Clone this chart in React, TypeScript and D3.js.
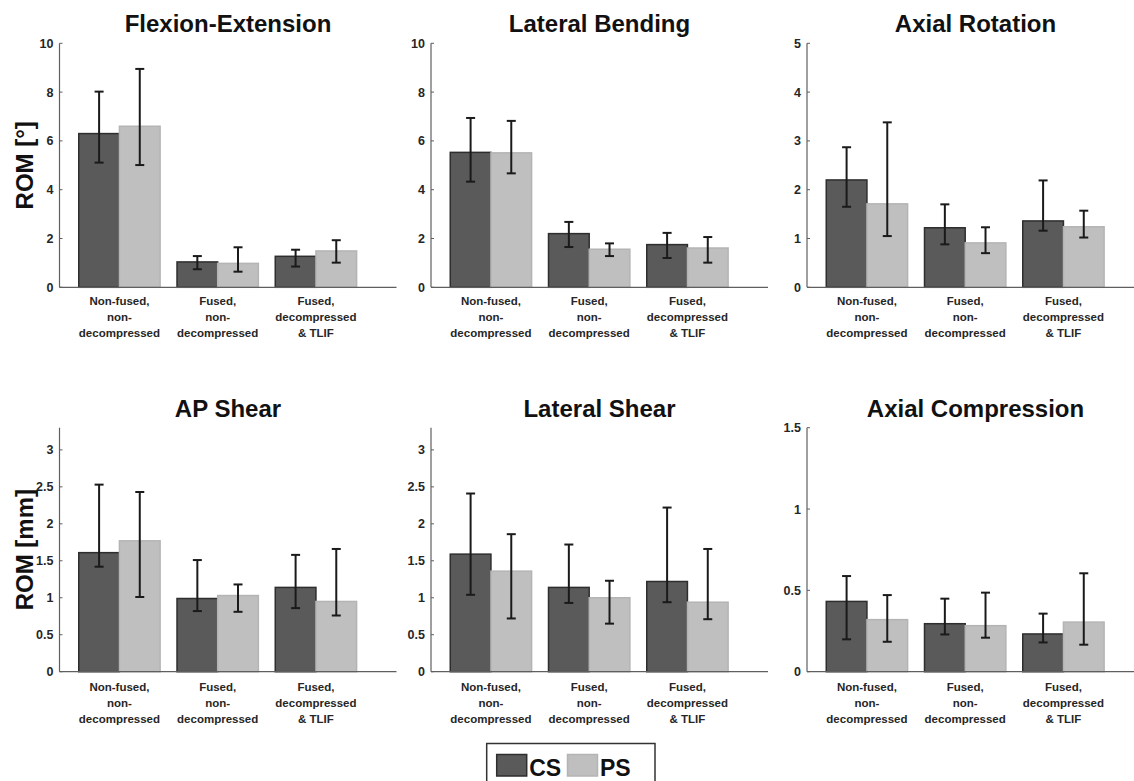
import React from "react";
import * as d3 from "d3";

const categories: string[][] = [
  ["Non-fused,", "non-", "decompressed"],
  ["Fused,", "non-", "decompressed"],
  ["Fused,", "decompressed", "& TLIF"],
];

const titles = ["Flexion-Extension", "Lateral Bending", "Axial Rotation", "AP Shear", "Lateral Shear", "Axial Compression"];
const yMax = [10, 10, 5, 3.3, 3.3, 1.5];
const yTicks: number[][] = [
  [0, 2, 4, 6, 8, 10],
  [0, 2, 4, 6, 8, 10],
  [0, 1, 2, 3, 4, 5],
  [0, 0.5, 1, 1.5, 2, 2.5, 3],
  [0, 0.5, 1, 1.5, 2, 2.5, 3],
  [0, 0.5, 1, 1.5],
];

// CS series: mean, error low, error high (per panel, per category)
const csMean = [
  [6.3, 1.04, 1.27],
  [5.53, 2.2, 1.75],
  [2.2, 1.22, 1.36],
  [1.61, 0.99, 1.14],
  [1.59, 1.14, 1.22],
  [0.432, 0.295, 0.232],
];
const csLow = [
  [5.11, 0.74, 0.85],
  [4.33, 1.65, 1.2],
  [1.65, 0.88, 1.16],
  [1.42, 0.82, 0.86],
  [1.04, 0.93, 0.94],
  [0.199, 0.229, 0.18],
];
const csHigh = [
  [8.02, 1.28, 1.54],
  [6.94, 2.68, 2.23],
  [2.87, 1.7, 2.19],
  [2.53, 1.51, 1.58],
  [2.41, 1.72, 2.22],
  [0.588, 0.449, 0.357],
];
// PS series
const psMean = [
  [6.6, 0.98, 1.49],
  [5.51, 1.56, 1.61],
  [1.71, 0.91, 1.24],
  [1.77, 1.03, 0.95],
  [1.36, 1.0, 0.94],
  [0.32, 0.283, 0.305],
];
const psLow = [
  [5.01, 0.64, 1.01],
  [4.67, 1.28, 1.01],
  [1.05, 0.7, 1.02],
  [1.01, 0.81, 0.76],
  [0.72, 0.65, 0.71],
  [0.184, 0.209, 0.166],
];
const psHigh = [
  [8.95, 1.64, 1.93],
  [6.82, 1.8, 2.06],
  [3.38, 1.23, 1.57],
  [2.43, 1.18, 1.66],
  [1.86, 1.23, 1.66],
  [0.471, 0.486, 0.605],
];

const yLabels = ["ROM [°]", "ROM [mm]"];
const seriesNames = ["CS", "PS"];

const CS_FILL = "#5a5a5a";
const CS_EDGE = "#2e2e2e";
const PS_FILL = "#bfbfbf";
const PS_EDGE = "#b4b4b4";
const AXIS = "#5f5f5f";
const TEXT = "#262626";
const FONT = "'Liberation Sans', Arial, sans-serif";

const colX0 = [59.5, 431, 807];
const rowY = [
  { top: 43.3, bottom: 287.3, titleY: 32, labY: 304.5 },
  { top: 427.7, bottom: 671.7, titleY: 416.5, labY: 690.5 },
];
const AXIS_W = 337;

function fmt(v: number) {
  return String(v);
}

function Panel({ idx }: { idx: number }) {
  const col = idx % 3;
  const row = Math.floor(idx / 3);
  const x0 = colX0[col];
  const r = rowY[row];
  const x = d3.scaleLinear().domain([0.39, 3.82]).range([x0, x0 + AXIS_W]);
  const y = d3.scaleLinear().domain([0, yMax[idx]]).range([r.bottom, r.top]);
  const bw = 0.414;
  const series = [
    { mean: csMean[idx], low: csLow[idx], high: csHigh[idx], fill: CS_FILL, edge: CS_EDGE, off: -bw },
    { mean: psMean[idx], low: psLow[idx], high: psHigh[idx], fill: PS_FILL, edge: PS_EDGE, off: 0 },
  ];
  return (
    <g>
      <text
        x={x0 + AXIS_W / 2}
        y={r.titleY}
        textAnchor="middle"
        fontFamily={FONT}
        fontWeight="bold"
        fontSize={24}
        fill="#111"
      >
        {titles[idx]}
      </text>
      {series.map((s, si) =>
        s.mean.map((m, ci) => {
          const xl = x(ci + 1 + s.off);
          const xr = x(ci + 1 + s.off + bw);
          return (
            <rect
              key={`b${si}-${ci}`}
              x={xl}
              y={y(m)}
              width={xr - xl}
              height={y(0) - y(m)}
              fill={s.fill}
              stroke={s.edge}
              strokeWidth={1.5}
            />
          );
        })
      )}
      {series.map((s, si) =>
        s.mean.map((m, ci) => {
          const xc = x(ci + 1 + s.off + bw / 2);
          const yl = y(s.low[ci]);
          const yh = y(s.high[ci]);
          return (
            <g key={`e${si}-${ci}`} stroke="#1a1a1a" strokeWidth={2}>
              <line x1={xc} x2={xc} y1={yl} y2={yh} />
              <line x1={xc - 4.5} x2={xc + 4.5} y1={yl} y2={yl} />
              <line x1={xc - 4.5} x2={xc + 4.5} y1={yh} y2={yh} />
            </g>
          );
        })
      )}
      {/* axes */}
      <line x1={x0} x2={x0} y1={r.top} y2={r.bottom} stroke={AXIS} strokeWidth={1.2} />
      <line x1={x0} x2={x0 + AXIS_W} y1={r.bottom} y2={r.bottom} stroke={AXIS} strokeWidth={1.2} />
      {yTicks[idx].map((t) => (
        <g key={`t${t}`}>
          <line x1={x0} x2={x0 + 3} y1={y(t)} y2={y(t)} stroke={AXIS} strokeWidth={1} />
          <text
            x={x0 - 6}
            y={y(t)}
            dy="0.36em"
            textAnchor="end"
            fontFamily={FONT}
            fontWeight="bold"
            fontSize={12.5}
            fill={TEXT}
          >
            {fmt(t)}
          </text>
        </g>
      ))}
      {categories.map((lines, ci) => (
        <text
          key={`c${ci}`}
          x={x(ci + 1)}
          y={r.labY}
          textAnchor="middle"
          fontFamily={FONT}
          fontWeight="bold"
          fontSize={11.5}
          fill={TEXT}
        >
          {lines.map((l, li) => (
            <tspan key={li} x={x(ci + 1)} dy={li === 0 ? 0 : 16}>
              {l}
            </tspan>
          ))}
        </text>
      ))}
      {col === 0 && (
        <text
          transform={`translate(${33},${(r.top + r.bottom) / 2}) rotate(-90)`}
          textAnchor="middle"
          fontFamily={FONT}
          fontWeight="bold"
          fontSize={24}
          fill="#111"
        >
          {yLabels[row]}
        </text>
      )}
    </g>
  );
}

export default function App() {
  const legendFills = [CS_FILL, PS_FILL];
  const legendEdges = [CS_EDGE, PS_EDGE];
  const legendX = [496.7, 567.5];
  return (
    <svg
      width={1134}
      height={781}
      style={{ position: "absolute", left: 0, top: 0, background: "#fff" }}
    >
      <rect x={0} y={0} width={1134} height={781} fill="#fff" />
      {titles.map((_, i) => (
        <Panel key={i} idx={i} />
      ))}
      <rect x={486.7} y={743.5} width={168.3} height={50} fill="#fff" stroke="#333" strokeWidth={1.5} />
      {seriesNames.map((n, i) => (
        <g key={n}>
          <rect
            x={legendX[i]}
            y={754.5}
            width={30}
            height={21.5}
            fill={legendFills[i]}
            stroke={legendEdges[i]}
            strokeWidth={1.5}
          />
          <text
            x={legendX[i] + 32.5}
            y={775.5}
            fontFamily={FONT}
            fontWeight="bold"
            fontSize={23}
            fill="#111"
          >
            {n}
          </text>
        </g>
      ))}
    </svg>
  );
}
